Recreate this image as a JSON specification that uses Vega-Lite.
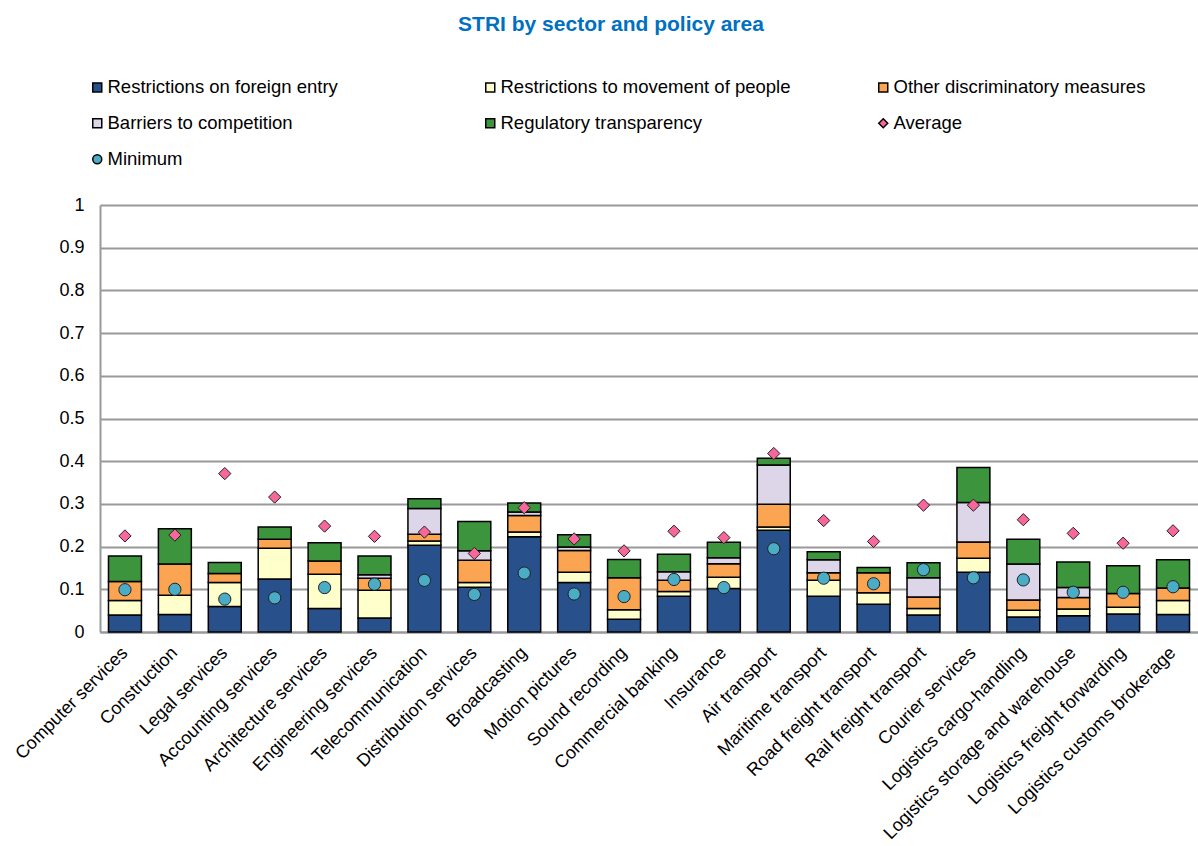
{
  "$schema": "https://vega.github.io/schema/vega-lite/v6.json",
  "width": 1098,
  "height": 427,
  "autosize": {"type": "none"},
  "padding": {"left": 100, "top": 205, "right": 0, "bottom": 214},
  "background": "white",
  "config": {"font": "Liberation Sans", "view": {"stroke": null}},
  "title": {"text": "STRI by sector and policy area", "fontSize": 21, "fontWeight": "bold", "color": "#0070C0", "anchor": "middle", "frame": "group", "dx": -38, "offset": 43},
  "datasets": {
    "bars": [
      {"sector": "Computer services", "series": "Restrictions on foreign entry", "k": 1, "value": 0.040},
      {"sector": "Computer services", "series": "Restrictions to movement of people", "k": 2, "value": 0.034},
      {"sector": "Computer services", "series": "Other discriminatory measures", "k": 3, "value": 0.044},
      {"sector": "Computer services", "series": "Regulatory transparency", "k": 5, "value": 0.060},
      {"sector": "Construction", "series": "Restrictions on foreign entry", "k": 1, "value": 0.041},
      {"sector": "Construction", "series": "Restrictions to movement of people", "k": 2, "value": 0.045},
      {"sector": "Construction", "series": "Other discriminatory measures", "k": 3, "value": 0.073},
      {"sector": "Construction", "series": "Regulatory transparency", "k": 5, "value": 0.083},
      {"sector": "Legal services", "series": "Restrictions on foreign entry", "k": 1, "value": 0.060},
      {"sector": "Legal services", "series": "Restrictions to movement of people", "k": 2, "value": 0.056},
      {"sector": "Legal services", "series": "Other discriminatory measures", "k": 3, "value": 0.021},
      {"sector": "Legal services", "series": "Regulatory transparency", "k": 5, "value": 0.026},
      {"sector": "Accounting services", "series": "Restrictions on foreign entry", "k": 1, "value": 0.124},
      {"sector": "Accounting services", "series": "Restrictions to movement of people", "k": 2, "value": 0.072},
      {"sector": "Accounting services", "series": "Other discriminatory measures", "k": 3, "value": 0.021},
      {"sector": "Accounting services", "series": "Regulatory transparency", "k": 5, "value": 0.029},
      {"sector": "Architecture services", "series": "Restrictions on foreign entry", "k": 1, "value": 0.055},
      {"sector": "Architecture services", "series": "Restrictions to movement of people", "k": 2, "value": 0.080},
      {"sector": "Architecture services", "series": "Other discriminatory measures", "k": 3, "value": 0.031},
      {"sector": "Architecture services", "series": "Regulatory transparency", "k": 5, "value": 0.043},
      {"sector": "Engineering services", "series": "Restrictions on foreign entry", "k": 1, "value": 0.033},
      {"sector": "Engineering services", "series": "Restrictions to movement of people", "k": 2, "value": 0.065},
      {"sector": "Engineering services", "series": "Other discriminatory measures", "k": 3, "value": 0.028},
      {"sector": "Engineering services", "series": "Barriers to competition", "k": 4, "value": 0.008},
      {"sector": "Engineering services", "series": "Regulatory transparency", "k": 5, "value": 0.044},
      {"sector": "Telecommunication", "series": "Restrictions on foreign entry", "k": 1, "value": 0.203},
      {"sector": "Telecommunication", "series": "Restrictions to movement of people", "k": 2, "value": 0.010},
      {"sector": "Telecommunication", "series": "Other discriminatory measures", "k": 3, "value": 0.016},
      {"sector": "Telecommunication", "series": "Barriers to competition", "k": 4, "value": 0.060},
      {"sector": "Telecommunication", "series": "Regulatory transparency", "k": 5, "value": 0.023},
      {"sector": "Distribution services", "series": "Restrictions on foreign entry", "k": 1, "value": 0.105},
      {"sector": "Distribution services", "series": "Restrictions to movement of people", "k": 2, "value": 0.011},
      {"sector": "Distribution services", "series": "Other discriminatory measures", "k": 3, "value": 0.052},
      {"sector": "Distribution services", "series": "Barriers to competition", "k": 4, "value": 0.022},
      {"sector": "Distribution services", "series": "Regulatory transparency", "k": 5, "value": 0.069},
      {"sector": "Broadcasting", "series": "Restrictions on foreign entry", "k": 1, "value": 0.223},
      {"sector": "Broadcasting", "series": "Restrictions to movement of people", "k": 2, "value": 0.011},
      {"sector": "Broadcasting", "series": "Other discriminatory measures", "k": 3, "value": 0.039},
      {"sector": "Broadcasting", "series": "Barriers to competition", "k": 4, "value": 0.008},
      {"sector": "Broadcasting", "series": "Regulatory transparency", "k": 5, "value": 0.021},
      {"sector": "Motion pictures", "series": "Restrictions on foreign entry", "k": 1, "value": 0.116},
      {"sector": "Motion pictures", "series": "Restrictions to movement of people", "k": 2, "value": 0.024},
      {"sector": "Motion pictures", "series": "Other discriminatory measures", "k": 3, "value": 0.051},
      {"sector": "Motion pictures", "series": "Barriers to competition", "k": 4, "value": 0.008},
      {"sector": "Motion pictures", "series": "Regulatory transparency", "k": 5, "value": 0.029},
      {"sector": "Sound recording", "series": "Restrictions on foreign entry", "k": 1, "value": 0.030},
      {"sector": "Sound recording", "series": "Restrictions to movement of people", "k": 2, "value": 0.022},
      {"sector": "Sound recording", "series": "Other discriminatory measures", "k": 3, "value": 0.075},
      {"sector": "Sound recording", "series": "Regulatory transparency", "k": 5, "value": 0.043},
      {"sector": "Commercial banking", "series": "Restrictions on foreign entry", "k": 1, "value": 0.084},
      {"sector": "Commercial banking", "series": "Restrictions to movement of people", "k": 2, "value": 0.011},
      {"sector": "Commercial banking", "series": "Other discriminatory measures", "k": 3, "value": 0.026},
      {"sector": "Commercial banking", "series": "Barriers to competition", "k": 4, "value": 0.020},
      {"sector": "Commercial banking", "series": "Regulatory transparency", "k": 5, "value": 0.041},
      {"sector": "Insurance", "series": "Restrictions on foreign entry", "k": 1, "value": 0.102},
      {"sector": "Insurance", "series": "Restrictions to movement of people", "k": 2, "value": 0.026},
      {"sector": "Insurance", "series": "Other discriminatory measures", "k": 3, "value": 0.032},
      {"sector": "Insurance", "series": "Barriers to competition", "k": 4, "value": 0.014},
      {"sector": "Insurance", "series": "Regulatory transparency", "k": 5, "value": 0.036},
      {"sector": "Air transport", "series": "Restrictions on foreign entry", "k": 1, "value": 0.238},
      {"sector": "Air transport", "series": "Restrictions to movement of people", "k": 2, "value": 0.008},
      {"sector": "Air transport", "series": "Other discriminatory measures", "k": 3, "value": 0.053},
      {"sector": "Air transport", "series": "Barriers to competition", "k": 4, "value": 0.092},
      {"sector": "Air transport", "series": "Regulatory transparency", "k": 5, "value": 0.016},
      {"sector": "Maritime transport", "series": "Restrictions on foreign entry", "k": 1, "value": 0.084},
      {"sector": "Maritime transport", "series": "Restrictions to movement of people", "k": 2, "value": 0.037},
      {"sector": "Maritime transport", "series": "Other discriminatory measures", "k": 3, "value": 0.018},
      {"sector": "Maritime transport", "series": "Barriers to competition", "k": 4, "value": 0.030},
      {"sector": "Maritime transport", "series": "Regulatory transparency", "k": 5, "value": 0.019},
      {"sector": "Road freight transport", "series": "Restrictions on foreign entry", "k": 1, "value": 0.065},
      {"sector": "Road freight transport", "series": "Restrictions to movement of people", "k": 2, "value": 0.027},
      {"sector": "Road freight transport", "series": "Other discriminatory measures", "k": 3, "value": 0.047},
      {"sector": "Road freight transport", "series": "Regulatory transparency", "k": 5, "value": 0.012},
      {"sector": "Rail freight transport", "series": "Restrictions on foreign entry", "k": 1, "value": 0.040},
      {"sector": "Rail freight transport", "series": "Restrictions to movement of people", "k": 2, "value": 0.015},
      {"sector": "Rail freight transport", "series": "Other discriminatory measures", "k": 3, "value": 0.027},
      {"sector": "Rail freight transport", "series": "Barriers to competition", "k": 4, "value": 0.045},
      {"sector": "Rail freight transport", "series": "Regulatory transparency", "k": 5, "value": 0.035},
      {"sector": "Courier services", "series": "Restrictions on foreign entry", "k": 1, "value": 0.140},
      {"sector": "Courier services", "series": "Restrictions to movement of people", "k": 2, "value": 0.033},
      {"sector": "Courier services", "series": "Other discriminatory measures", "k": 3, "value": 0.038},
      {"sector": "Courier services", "series": "Barriers to competition", "k": 4, "value": 0.092},
      {"sector": "Courier services", "series": "Regulatory transparency", "k": 5, "value": 0.082},
      {"sector": "Logistics cargo-handling", "series": "Restrictions on foreign entry", "k": 1, "value": 0.035},
      {"sector": "Logistics cargo-handling", "series": "Restrictions to movement of people", "k": 2, "value": 0.016},
      {"sector": "Logistics cargo-handling", "series": "Other discriminatory measures", "k": 3, "value": 0.024},
      {"sector": "Logistics cargo-handling", "series": "Barriers to competition", "k": 4, "value": 0.084},
      {"sector": "Logistics cargo-handling", "series": "Regulatory transparency", "k": 5, "value": 0.058},
      {"sector": "Logistics storage and warehouse", "series": "Restrictions on foreign entry", "k": 1, "value": 0.038},
      {"sector": "Logistics storage and warehouse", "series": "Restrictions to movement of people", "k": 2, "value": 0.016},
      {"sector": "Logistics storage and warehouse", "series": "Other discriminatory measures", "k": 3, "value": 0.027},
      {"sector": "Logistics storage and warehouse", "series": "Barriers to competition", "k": 4, "value": 0.023},
      {"sector": "Logistics storage and warehouse", "series": "Regulatory transparency", "k": 5, "value": 0.060},
      {"sector": "Logistics freight forwarding", "series": "Restrictions on foreign entry", "k": 1, "value": 0.042},
      {"sector": "Logistics freight forwarding", "series": "Restrictions to movement of people", "k": 2, "value": 0.016},
      {"sector": "Logistics freight forwarding", "series": "Other discriminatory measures", "k": 3, "value": 0.032},
      {"sector": "Logistics freight forwarding", "series": "Regulatory transparency", "k": 5, "value": 0.065},
      {"sector": "Logistics customs brokerage", "series": "Restrictions on foreign entry", "k": 1, "value": 0.041},
      {"sector": "Logistics customs brokerage", "series": "Restrictions to movement of people", "k": 2, "value": 0.033},
      {"sector": "Logistics customs brokerage", "series": "Other discriminatory measures", "k": 3, "value": 0.029},
      {"sector": "Logistics customs brokerage", "series": "Regulatory transparency", "k": 5, "value": 0.066}
    ],
    "points": [
      {"sector": "Computer services", "series": "Average", "value": 0.225},
      {"sector": "Construction", "series": "Average", "value": 0.227},
      {"sector": "Legal services", "series": "Average", "value": 0.371},
      {"sector": "Accounting services", "series": "Average", "value": 0.316},
      {"sector": "Architecture services", "series": "Average", "value": 0.248},
      {"sector": "Engineering services", "series": "Average", "value": 0.224},
      {"sector": "Telecommunication", "series": "Average", "value": 0.234},
      {"sector": "Distribution services", "series": "Average", "value": 0.184},
      {"sector": "Broadcasting", "series": "Average", "value": 0.291},
      {"sector": "Motion pictures", "series": "Average", "value": 0.218},
      {"sector": "Sound recording", "series": "Average", "value": 0.190},
      {"sector": "Commercial banking", "series": "Average", "value": 0.236},
      {"sector": "Insurance", "series": "Average", "value": 0.221},
      {"sector": "Air transport", "series": "Average", "value": 0.418},
      {"sector": "Maritime transport", "series": "Average", "value": 0.261},
      {"sector": "Road freight transport", "series": "Average", "value": 0.212},
      {"sector": "Rail freight transport", "series": "Average", "value": 0.297},
      {"sector": "Courier services", "series": "Average", "value": 0.297},
      {"sector": "Logistics cargo-handling", "series": "Average", "value": 0.263},
      {"sector": "Logistics storage and warehouse", "series": "Average", "value": 0.231},
      {"sector": "Logistics freight forwarding", "series": "Average", "value": 0.208},
      {"sector": "Logistics customs brokerage", "series": "Average", "value": 0.237},
      {"sector": "Computer services", "series": "Minimum", "value": 0.099},
      {"sector": "Construction", "series": "Minimum", "value": 0.100},
      {"sector": "Legal services", "series": "Minimum", "value": 0.077},
      {"sector": "Accounting services", "series": "Minimum", "value": 0.080},
      {"sector": "Architecture services", "series": "Minimum", "value": 0.104},
      {"sector": "Engineering services", "series": "Minimum", "value": 0.112},
      {"sector": "Telecommunication", "series": "Minimum", "value": 0.121},
      {"sector": "Distribution services", "series": "Minimum", "value": 0.088},
      {"sector": "Broadcasting", "series": "Minimum", "value": 0.138},
      {"sector": "Motion pictures", "series": "Minimum", "value": 0.089},
      {"sector": "Sound recording", "series": "Minimum", "value": 0.083},
      {"sector": "Commercial banking", "series": "Minimum", "value": 0.123},
      {"sector": "Insurance", "series": "Minimum", "value": 0.104},
      {"sector": "Air transport", "series": "Minimum", "value": 0.195},
      {"sector": "Maritime transport", "series": "Minimum", "value": 0.126},
      {"sector": "Road freight transport", "series": "Minimum", "value": 0.113},
      {"sector": "Rail freight transport", "series": "Minimum", "value": 0.146},
      {"sector": "Courier services", "series": "Minimum", "value": 0.127},
      {"sector": "Logistics cargo-handling", "series": "Minimum", "value": 0.122},
      {"sector": "Logistics storage and warehouse", "series": "Minimum", "value": 0.093},
      {"sector": "Logistics freight forwarding", "series": "Minimum", "value": 0.093},
      {"sector": "Logistics customs brokerage", "series": "Minimum", "value": 0.106}
    ]
  },
  "encoding": {
    "x": {
      "field": "sector", "type": "nominal", "sort": null,
      "scale": {"paddingInner": 0.34, "paddingOuter": 0.17},
      "axis": {"title": null, "labelAngle": -45, "labelAlign": "right", "labelBaseline": "middle", "labelFontSize": 18, "labelColor": "#000", "labelPadding": 18, "ticks": false, "domainColor": "#999", "domainWidth": 2, "labelLimit": 400}
    },
    "y": {
      "field": "value", "type": "quantitative",
      "scale": {"domain": [0, 1], "nice": false, "zero": true},
      "axis": {"title": null, "values": [0, 0.1, 0.2, 0.3, 0.4, 0.5, 0.6, 0.7, 0.8, 0.9, 1], "format": "~g", "grid": true, "gridColor": "#999", "gridWidth": 2, "domainColor": "#999", "domainWidth": 2, "ticks": false, "labelPadding": 16, "labelFontSize": 18, "labelColor": "#000"}
    },
    "color": {
      "field": "series", "type": "nominal",
      "scale": {
        "domain": ["Restrictions on foreign entry", "Restrictions to movement of people", "Other discriminatory measures", "Barriers to competition", "Regulatory transparency", "Average", "Minimum"],
        "range": ["#28508A", "#FFFFCC", "#FBA552", "#DCD6E8", "#3C943C", "#F8679B", "#4BACC6"]
      },
      "legend": {
        "title": null, "orient": "none", "direction": "horizontal", "legendX": -12, "legendY": -127, "columns": 3, "gridAlign": "all",
        "columnPadding": 83, "rowPadding": 17, "symbolSize": 81, "labelFontSize": 18.5, "labelColor": "#000",
        "labelOffset": 1, "labelLimit": 400,
        "encode": {"symbols": {"update": {"stroke": {"value": "#000"}, "strokeWidth": {"value": 1}}}}
      }
    }
  },
  "layer": [
    {
      "data": {"name": "bars"},
      "mark": {"type": "bar", "stroke": "#000", "strokeWidth": 1.5},
      "encoding": {
        "y": {"field": "value", "type": "quantitative", "stack": "zero"},
        "order": {"field": "k", "type": "quantitative", "sort": "ascending"}
      }
    },
    {
      "data": {"name": "points"},
      "mark": {"type": "point", "filled": true, "opacity": 1, "stroke": "#222", "strokeWidth": 1, "size": 150},
      "encoding": {
        "shape": {
          "field": "series", "type": "nominal",
          "scale": {
            "domain": ["Restrictions on foreign entry", "Restrictions to movement of people", "Other discriminatory measures", "Barriers to competition", "Regulatory transparency", "Average", "Minimum"],
            "range": ["square", "square", "square", "square", "square", "diamond", "circle"]
          },
          "legend": {"title": null, "orient": "none", "direction": "horizontal", "legendX": -12, "legendY": -127, "columns": 3, "gridAlign": "all", "columnPadding": 83, "rowPadding": 17, "symbolSize": 81, "labelFontSize": 18.5, "labelColor": "#000", "labelOffset": 1, "labelLimit": 400}
        }
      }
    }
  ]
}
